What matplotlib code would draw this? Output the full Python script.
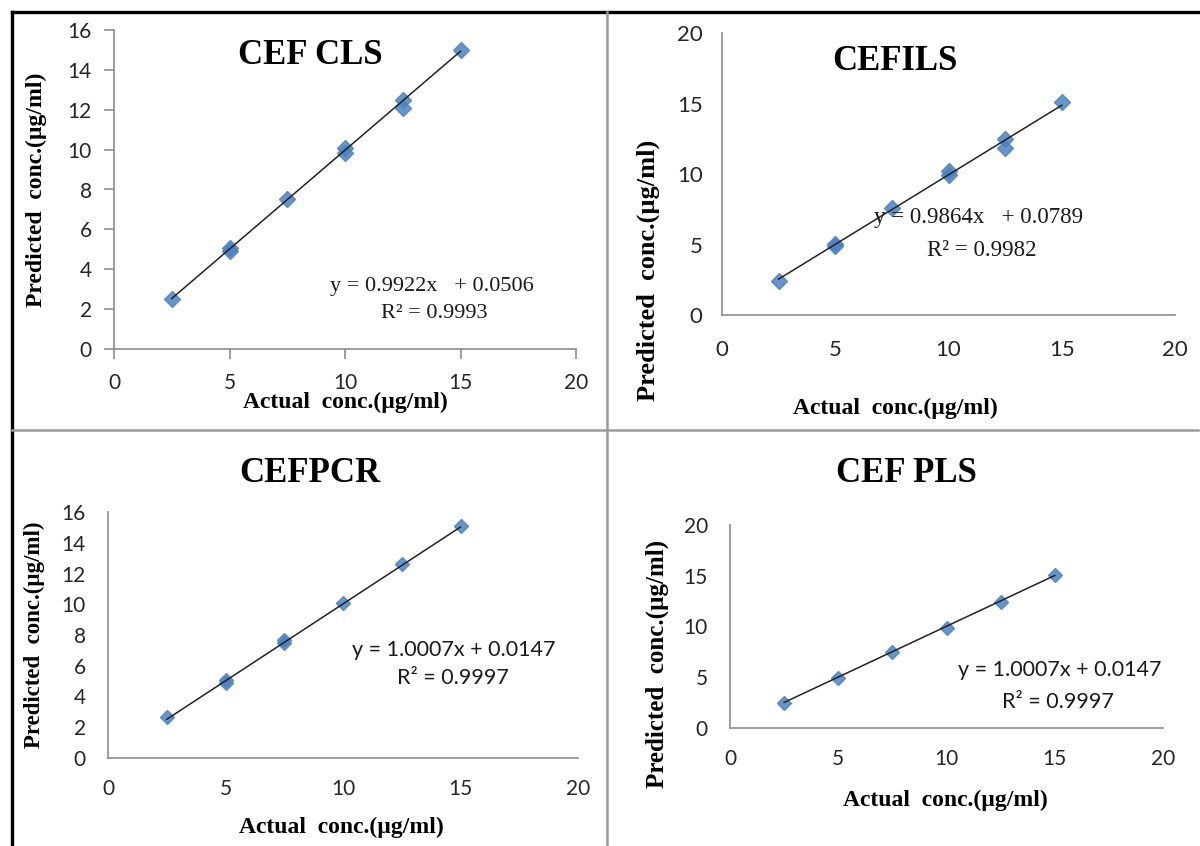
import numpy as np
import matplotlib
matplotlib.use("Agg")
import matplotlib.pyplot as plt
from matplotlib.lines import Line2D

W, H = 1200, 846

# data
titles = ["CEF CLS", "CEFILS", "CEFPCR", "CEF PLS"]

cls_x = [2.5, 5, 5, 7.5, 10, 10, 12.5, 12.5, 15]
cls_y = [2.5, 5.05, 4.9, 7.5, 10.1, 9.85, 12.5, 12.1, 15.0]
ils_x = [2.5, 5, 5, 7.5, 10, 10, 12.5, 12.5, 15]
ils_y = [2.4, 5.05, 4.9, 7.6, 10.2, 9.95, 12.45, 11.85, 15.1]
pcr_x = [2.5, 5, 5, 7.5, 7.5, 10, 12.5, 15]
pcr_y = [2.65, 5.1, 4.9, 7.7, 7.5, 10.05, 12.6, 15.1]
pls_x = [2.5, 5, 7.5, 10, 12.5, 15]
pls_y = [2.5, 4.95, 7.5, 9.9, 12.4, 15.05]

slopes = [0.9922, 0.9864, 1.0007, 1.0007]
intercepts = [0.0506, 0.0789, 0.0147, 0.0147]
eq_text = ["y = 0.9922x   + 0.0506", "y = 0.9864x   + 0.0789",
           "y = 1.0007x + 0.0147", "y = 1.0007x + 0.0147"]
r2_text = ["R\u00b2 = 0.9993", "R\u00b2 = 0.9982", "R\u00b2 = 0.9997", "R\u00b2 = 0.9997"]
y_max = [16, 20, 16, 20]
y_step = [2, 5, 2, 5]
x_ticks = [0, 5, 10, 15, 20]

xlab = "Actual  conc.(\u00b5g/ml)"
ylab = "Predicted  conc.(\u00b5g/ml)"

xs = [cls_x, ils_x, pcr_x, pls_x]
ys = [cls_y, ils_y, pcr_y, pls_y]

# layout in pixels of the reference
boxes = [(114, 30, 576, 349), (722, 33, 1175, 315),
         (108, 512, 578, 758), (730, 525, 1163, 728)]
title_pos = [(310, 56), (895, 62), (310, 473), (906, 473)]
xlab_pos = [(345, 402), (895, 408), (341, 827), (945, 800)]
ylab_pos = [(36, 190), (648, 270), (34, 635), (657, 664)]
eq_pos = [((432, 287), (434, 313)), ((979, 217), (982, 250)),
          ((454, 650), (453, 678)), ((1060, 670), (1058, 702))]
eq_font = ["Liberation Serif", "Liberation Serif", "Lato", "Lato"]
eq_fs = [16, 16.5, 15.5, 15.5]
tick_len = [7, 0, 0, 0]
xpad = [10, 18, 15, 15]
ypad = [9, 14, 16, 16]
tick_fs = [15, 16, 15, 15]
ylab_fs = [17, 19, 16.5, 18]

marker_col = "#4F81BD"
spine_col = "#8c8c8c"

fig = plt.figure(figsize=(W / 100, H / 100), dpi=100)
fig.patch.set_facecolor("white")


def fx(x):
    return x / W


def fy(y):
    return 1 - y / H


for i in range(4):
    l, t, r, b = boxes[i]
    ax = fig.add_axes([fx(l), fy(b), (r - l) / W, (b - t) / H])
    x = np.array(xs[i])
    y = np.array(ys[i])
    ax.plot(x, y, linestyle="none", marker="D", ms=8 if i < 2 else 7,
            color=marker_col, alpha=0.85, zorder=2, clip_on=False)
    xl = np.array([x.min(), x.max()])
    ax.plot(xl, slopes[i] * xl + intercepts[i], color="#222222", lw=1.1,
            zorder=3, clip_on=False)
    ax.set_xlim(0, 20)
    ax.set_ylim(0, y_max[i])
    ax.set_xticks(x_ticks)
    ax.set_yticks(np.arange(0, y_max[i] + 1, y_step[i]))
    for s in ["top", "right"]:
        ax.spines[s].set_visible(False)
    for s in ["left", "bottom"]:
        ax.spines[s].set_color(spine_col)
        ax.spines[s].set_linewidth(1.2)
    ax.tick_params(axis="both", length=tick_len[i], width=1.2, color=spine_col,
                   direction="out", labelsize=tick_fs[i], labelcolor="#262626")
    ax.tick_params(axis="x", pad=xpad[i])
    ax.tick_params(axis="y", pad=ypad[i])
    for lab in ax.get_xticklabels() + ax.get_yticklabels():
        lab.set_fontfamily("Lato")

    tx, ty = title_pos[i]
    fig.text(fx(tx), fy(ty), titles[i], ha="center", va="center",
             fontsize=25, fontweight="bold", family="Liberation Serif")
    lx, ly = xlab_pos[i]
    fig.text(fx(lx), fy(ly), xlab, ha="center", va="center",
             fontsize=17, fontweight="bold", family="Liberation Serif")
    px, py = ylab_pos[i]
    fig.text(fx(px), fy(py), ylab, ha="center", va="center", rotation=90,
             fontsize=ylab_fs[i], fontweight="bold", family="Liberation Serif")
    (e1x, e1y), (e2x, e2y) = eq_pos[i]
    fig.text(fx(e1x), fy(e1y), eq_text[i], ha="center", va="center",
             fontsize=eq_fs[i], family=eq_font[i], color="#1a1a1a")
    fig.text(fx(e2x), fy(e2y), r2_text[i], ha="center", va="center",
             fontsize=eq_fs[i], family=eq_font[i], color="#1a1a1a")

# panel frame lines
fig.add_artist(Line2D([fx(12), fx(12)], [fy(12), fy(846)], color="black", lw=2.4))
fig.add_artist(Line2D([fx(12), fx(1198)], [fy(12), fy(12)], color="black", lw=2.4))
fig.add_artist(Line2D([fx(607), fx(607)], [fy(12), fy(846)], color="#9a9a9a", lw=1.8))
fig.add_artist(Line2D([fx(12), fx(1198)], [fy(430), fy(430)], color="#9a9a9a", lw=1.8))

fig.savefig("out.png", dpi=100, facecolor="white")
